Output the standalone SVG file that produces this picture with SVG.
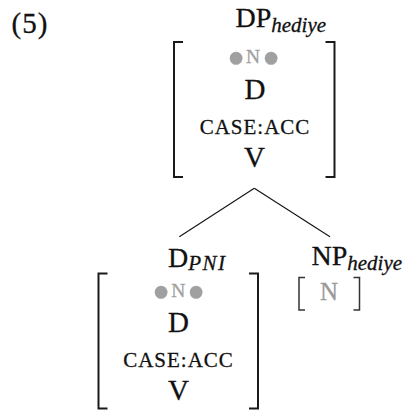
<svg xmlns="http://www.w3.org/2000/svg" width="406" height="410" viewBox="0 0 406 410">
  <style>
    text { font-family: "Liberation Serif", "Times New Roman", serif; fill: #111; stroke: #111; stroke-width: 0.3px; }
    .lab { font-size: 28px; }
    .sub { font-size: 21px; font-style: italic; }
    .big { font-size: 29px; text-anchor: middle; }
    .case { font-size: 21px; text-anchor: middle; letter-spacing: 1px; }
    .feat { text-anchor: middle; fill: #a0a0a0; stroke: #a0a0a0; }
    .bul { font-size: 52px; }
    .n { font-size: 19.5px; }
    .grey { font-size: 25px; fill: #999; stroke: #999; }
    .brk { fill: none; stroke: #1a1a1a; stroke-width: 2; }
    .brk-thin { fill: none; stroke: #333; stroke-width: 1.5; }
    .edge { stroke: #111; stroke-width: 1.1; fill: none; }
  </style>

  <!-- example number -->
  <text class="lab" x="11.5" y="33" style="font-size:29px; letter-spacing:1px">(5)</text>

  <!-- root: DP hediye -->
  <g id="dp-hediye">
    <text class="lab" x="235.5" y="27">DP<tspan class="sub" dy="5">hediye</tspan></text>
    <path class="brk" d="M183 42H174V177H183"/>
    <path class="brk" d="M325.5 42H334.5V177H325.5"/>
    <text class="feat"><tspan class="bul" x="236" y="75.9">•</tspan><tspan class="n" x="253" y="62.5">N</tspan><tspan class="bul" x="271" y="75.9">•</tspan></text>
    <text class="big" x="255" y="99.3">D</text>
    <text class="case" x="255" y="134">CASE:ACC</text>
    <text class="big" x="254.5" y="167">V</text>
  </g>

  <!-- tree branches -->
  <g id="connectors">
    <line class="edge" x1="254.3" y1="188.3" x2="179.3" y2="236.7"/>
    <line class="edge" x1="254.3" y1="188.3" x2="330" y2="236.7"/>
  </g>

  <!-- left daughter: D PNI -->
  <g id="d-pni">
    <text class="lab" x="168" y="266.7">D<tspan class="sub" dy="3.5" style="letter-spacing:1.5px">PNI</tspan></text>
    <path class="brk" d="M107.5 273.5H98.5V408.5H107.5"/>
    <path class="brk" d="M249 273.5H258V408.5H249"/>
    <text class="feat"><tspan class="bul" x="161" y="310">•</tspan><tspan class="n" x="178.3" y="296.8">N</tspan><tspan class="bul" x="196" y="310">•</tspan></text>
    <text class="big" x="178.5" y="331.5">D</text>
    <text class="case" x="178.5" y="366.5">CASE:ACC</text>
    <text class="big" x="178.5" y="399.5">V</text>
  </g>

  <!-- right daughter: NP hediye -->
  <g id="np-hediye">
    <text class="lab" x="311.5" y="265">NP<tspan class="sub" dy="5">hediye</tspan></text>
    <path class="brk-thin" d="M305 277.5H299V310H305"/>
    <path class="brk-thin" d="M353.5 277.5H359.5V310H353.5"/>
    <text class="big grey" x="329" y="300">N</text>
  </g>
</svg>
